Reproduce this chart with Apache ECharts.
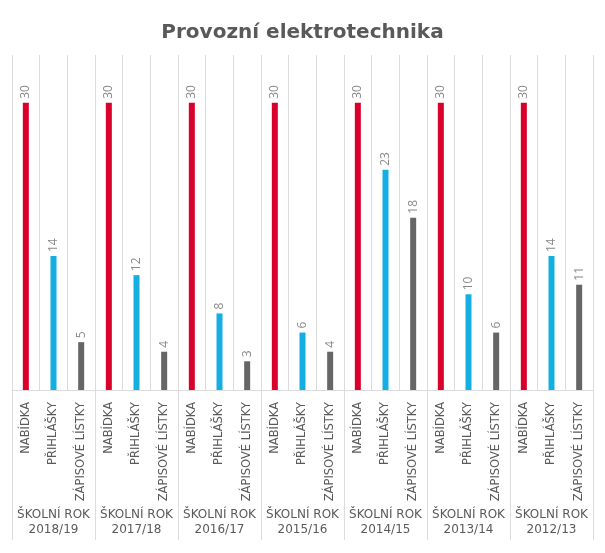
<!DOCTYPE html>
<html><head><meta charset="utf-8">
<script src="https://cdn.jsdelivr.net/npm/echarts@6/dist/echarts.min.js"></script>
<style>html,body{margin:0;padding:0;background:#fff}#c{width:605px;height:553px}</style>
</head><body><div id="c"></div>
<script>
var years = ['2018/19','2017/18','2016/17','2015/16','2014/15','2013/14','2012/13'];
var kinds = ['NABÍDKA','PŘIHLÁŠKY','ZÁPISOVÉ LÍSTKY'];
var nabidka = [30,30,30,30,30,30,30];
var prihlasky = [14,12,8,6,23,10,14];
var zapisove = [5,4,3,4,18,6,11];
var colors = ['#d9002b','#14aee3','#666666'];

var slots = [];
years.forEach(function(){ kinds.forEach(function(k){ slots.push(k); }); });
function spread(arr, idx){
  var out = [];
  arr.forEach(function(v){ for (var j=0;j<3;j++) out.push(j===idx ? v : null); });
  return out;
}
var seriesData = [nabidka, prihlasky, zapisove];
var series = seriesData.map(function(arr, i){
  return {
    type:'bar', name:kinds[i], data:spread(arr,i), barWidth:6, barGap:'-100%',
    itemStyle:{color:colors[i]},
    label:{show:true, position:'top', rotate:90, align:'left', verticalAlign:'middle', distance:4,
      color:'#8a8a8a', fontSize:12, fontFamily:'Open Sans'},
    silent:true, animation:false
  };
});
var chart = echarts.init(document.getElementById('c'));
chart.setOption({
  animation:false,
  title:{text:'Provozní elektrotechnika', left:'center', top:18,
    textStyle:{fontFamily:'DejaVu Sans', fontWeight:'bold', fontSize:20, color:'#595959'}},
  grid:{left:12, right:12, top:55, bottom:163},
  xAxis:[{
    type:'category', data:slots,
    axisLine:{lineStyle:{color:'#dcdcdc'}}, axisTick:{show:false},
    splitLine:{show:true, lineStyle:{color:'#dcdcdc'}},
    axisLabel:{interval:0, rotate:90, margin:12, color:'#5a5a5a', fontSize:11.5, fontFamily:'DejaVu Sans'}
  },{
    type:'category', data:years.map(function(y){return 'ŠKOLNÍ ROK\n'+y;}),
    position:'bottom', offset:150,
    axisLine:{show:false},
    axisTick:{show:true, inside:true, length:150, lineStyle:{color:'#dcdcdc'}},
    axisLabel:{interval:0, inside:true, margin:3, color:'#5a5a5a', fontSize:12, lineHeight:15, fontFamily:'DejaVu Sans'}
  }],
  yAxis:{type:'value', min:0, max:35, show:false},
  series:series
});
</script></body></html>
